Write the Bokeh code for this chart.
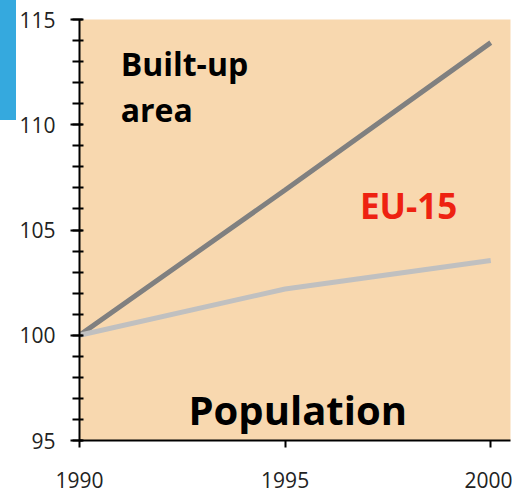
from bokeh.plotting import figure
from bokeh.models import Label, FixedTicker
from bokeh.embed import file_html
from bokeh.resources import INLINE

# Data (index, 1990 = 100)
years = [1990, 1995, 2000]
built_up = [100.0, 106.9, 113.9]
population = [100.0, 102.2, 103.55]
x_ticks = [1990, 1995, 2000]
y_ticks = [95, 100, 105, 110, 115]

FONT = "Open Sans"

p = figure(
    width=512, height=492,
    x_range=(1990, 2000.48), y_range=(95, 115),
    output_backend="svg", toolbar_location=None,
    min_border_left=79, min_border_right=2, min_border_top=19, min_border_bottom=52,
    background_fill_color="#F8D8AF",
    border_fill_alpha=0,
    outline_line_color=None,
    styles={
        "background-image": "linear-gradient(#35A9DE, #35A9DE)",
        "background-repeat": "no-repeat",
        "background-size": "16px 120px",
        "background-position": "0px 0px",
    },
)
p.grid.visible = False

p.line(years, built_up, line_color="#808080", line_width=5)
p.line(years, population, line_color="#C0C0C0", line_width=5)

# axes
xa = p.xaxis[0]
xa.ticker = FixedTicker(ticks=x_ticks)
xa.axis_line_color = "black"
xa.axis_line_width = 2
xa.major_tick_line_width = 2
xa.major_tick_in = 0
xa.major_tick_out = 7
xa.minor_tick_line_color = None
xa.major_label_text_font = FONT
xa.major_label_text_font_size = "21px"
xa.major_label_text_color = "#222222"
xa.major_label_standoff = 24

ya = p.yaxis[0]
ya.ticker = FixedTicker(ticks=y_ticks, minor_ticks=[95 + i for i in range(21)])
ya.axis_line_color = "black"
ya.axis_line_width = 2
ya.major_tick_line_width = 2
ya.minor_tick_line_width = 2
ya.major_tick_in = 3
ya.major_tick_out = 9
ya.minor_tick_in = 4
ya.minor_tick_out = 7
ya.major_label_text_font = FONT
ya.major_label_text_font_size = "21px"
ya.major_label_text_color = "#222222"
ya.major_label_standoff = 15

def add_label(x, y, text, size, color="black"):
    p.add_layout(Label(x=x, y=y, text=text, text_font=FONT, text_font_size=size,
                       text_font_style="bold", text_color=color,
                       text_baseline="alphabetic", text_align="left"))

add_label(1991.0, 112.9, "Built-up", "32px")
add_label(1991.0, 110.72, "area", "32px")
add_label(1996.82, 106.15, "EU-15", "35px", "#EE2211")
add_label(1992.65, 96.47, "Population", "40px")

open("out.html", "w").write(file_html(p, INLINE))
